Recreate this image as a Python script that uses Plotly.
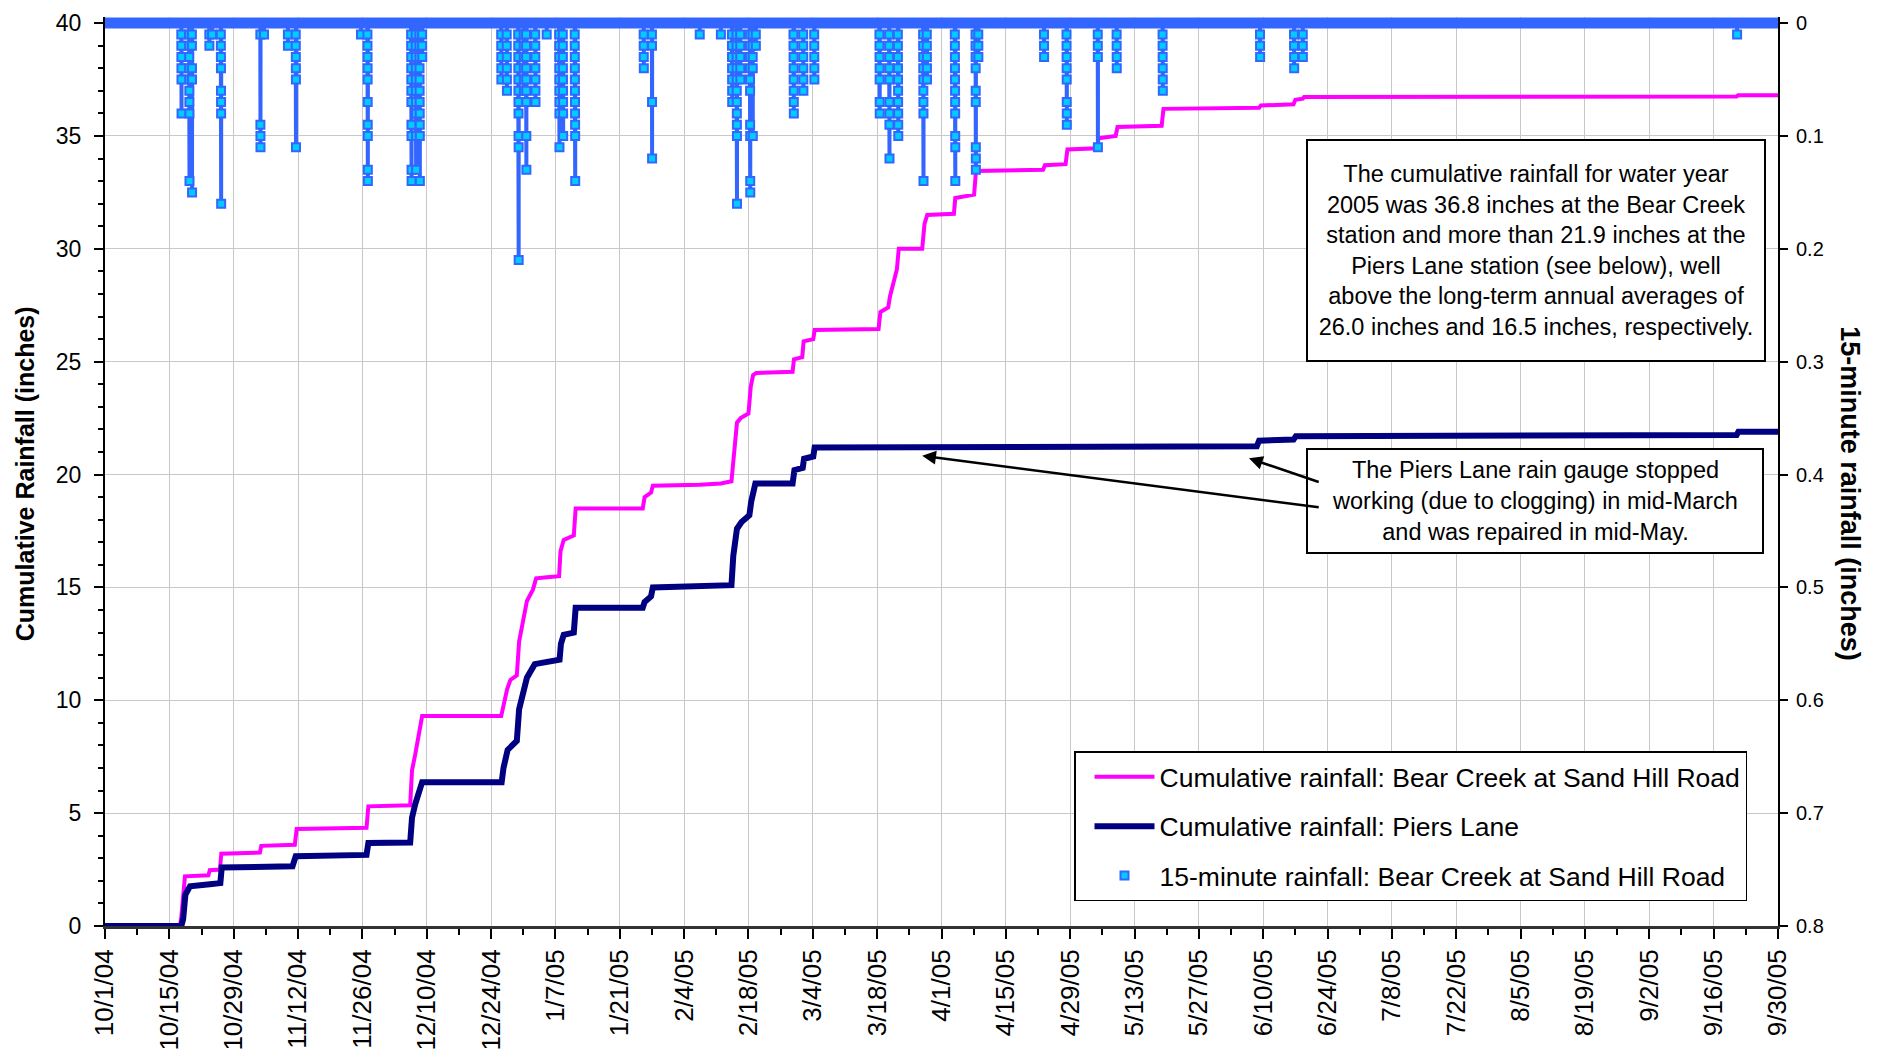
import pandas as pd
import plotly.graph_objects as go

START = pd.Timestamp("2004-10-01")
END = pd.Timestamp("2005-09-30")
FONT = "Liberation Sans, Arial, sans-serif"

# ---- Cumulative rainfall, Bear Creek at Sand Hill Road (days since 10/1/04, inches)
bc_day = [0, 16.3, 16.6, 17.0, 17.4, 22.5, 22.8, 25.0, 25.3, 33.7, 34.0, 41.3, 41.7,
          56.9, 57.3, 66.4, 66.8, 67.5, 68.4, 69.0, 86.2, 86.6, 87.5, 88.2, 89.6, 90.1,
          91.0, 91.8, 93.1, 93.8, 96.2, 98.8, 99.1, 99.8, 102.0, 102.4, 117.0, 117.4,
          118.8, 119.2, 129.4, 134.0, 136.3, 136.7, 137.5, 138.3, 140.0, 140.5, 141.0,
          141.7, 149.6, 149.9, 151.7, 152.0, 154.1, 154.4, 168.3, 168.7, 170.4, 170.8,
          171.6, 172.3, 172.7, 177.8, 178.3, 178.9, 184.7, 185.0, 189.1, 189.5, 204.1,
          204.5, 209.0, 209.4, 215.8, 216.2, 219.9, 220.3, 229.9, 230.3, 251.1, 251.5,
          258.6, 259.0, 260.6, 260.9, 355.0, 355.3, 364]
bc_cum = [0, 0, 0.4, 1.6, 2.2, 2.25, 2.47, 2.5, 3.2, 3.25, 3.55, 3.6, 4.3,
          4.35, 5.3, 5.35, 6.9, 7.6, 8.6, 9.3, 9.3, 9.7, 10.5, 10.9, 11.1, 12.6,
          13.5, 14.4, 14.9, 15.4, 15.45, 15.5, 16.6, 17.1, 17.3, 18.5, 18.5, 19.0,
          19.2, 19.5, 19.55, 19.6, 19.7, 20.6, 22.3, 22.5, 22.7, 23.9, 24.4,
          24.5, 24.55, 25.1, 25.2, 25.9, 26.0, 26.4, 26.45, 27.2, 27.4, 27.9,
          28.6, 29.1, 30.0, 30.0, 31.1, 31.5, 31.55, 32.25, 32.4, 33.45, 33.5,
          33.7, 33.75, 34.4, 34.45, 34.9, 35.0, 35.4, 35.45, 36.2, 36.25, 36.35,
          36.4, 36.6, 36.65, 36.73, 36.75, 36.8, 36.8]

# ---- Cumulative rainfall, Piers Lane (days since 10/1/04, inches)
pl_day = [0, 16.6, 17.0, 17.5, 18.5, 22.5, 22.8, 25.1, 25.4, 40.8, 41.5, 56.9, 57.3,
          66.4, 66.8, 67.5, 68.5, 69.0, 86.3, 86.7, 87.6, 88.3, 89.6, 90.1, 91.0, 91.8,
          93.5, 96.2, 98.9, 99.2, 99.8, 102.0, 102.4, 117.0, 117.4, 118.8, 119.2, 136.3,
          136.7, 137.5, 138.5, 140.2, 140.6, 141.5, 149.6, 150.0, 151.8, 152.1, 154.1,
          154.4, 250.6, 251.1, 258.6, 259.1, 355.0, 355.4, 364]
pl_cum = [0, 0, 0.3, 1.4, 1.76, 1.8, 1.85, 1.9, 2.59, 2.65, 3.09, 3.15, 3.68,
          3.7, 4.8, 5.4, 6.0, 6.37, 6.37, 7.0, 7.8, 7.97, 8.2, 9.6, 10.4, 11.0,
          11.6, 11.7, 11.8, 12.5, 12.9, 13.0, 14.1, 14.1, 14.35, 14.6, 15.0, 15.1,
          16.4, 17.6, 17.9, 18.2, 18.8, 19.6, 19.6, 20.2, 20.3, 20.7, 20.8,
          21.2, 21.25, 21.5, 21.55, 21.7, 21.75, 21.9, 21.9]

# ---- 15-minute rainfall bursts, Bear Creek (start day, successive 15-min depths in 0.01 in)
storm_day = [16.6, 18.3, 18.9, 22.7, 23.3, 25.2, 33.8, 34.6, 39.8, 41.5, 55.7, 57.1,
             66.6, 67.6, 68.4, 69.0, 86.2, 87.4, 89.9, 91.1, 91.6, 93.6, 96.1, 98.8,
             99.6, 102.2, 117.2, 119.0, 129.4, 134.0, 136.4, 137.4, 138.2, 140.3, 140.9,
             141.6, 149.8, 151.9, 154.3, 168.5, 170.6, 172.5, 178.0, 178.8, 184.9, 189.4,
             190.0, 204.3, 209.2, 216.0, 220.1, 230.1, 251.3, 258.7, 260.6, 355.1]
storm_vals = [
    [1, 2, 3, 4, 5, 8], [1, 2, 3, 4, 5, 6, 7, 8, 14], [1, 2, 4, 5, 15], [1, 2], [1],
    [1, 2, 3, 4, 6, 7, 8, 16], [1, 9, 10, 11], [1], [1, 2], [1, 2, 3, 4, 5, 11], [1],
    [1, 2, 3, 4, 5, 7, 9, 10, 13, 14],
    [1, 2, 3, 4, 5, 6, 7, 9, 10, 13, 14], [1, 2, 3, 4, 5, 6, 7, 8, 10, 13],
    [1, 2, 3, 4, 5, 6, 7, 8, 9, 10, 14], [1, 2, 3],
    [1, 2, 3, 4, 5], [1, 2, 3, 4, 5, 6], [1, 2, 3, 4, 5, 6, 7, 8, 10, 11, 21],
    [1, 2, 3, 4, 5, 6], [1, 2, 3, 4, 5, 6, 7, 10, 13], [1, 2, 3, 4, 5, 6, 7], [1],
    [1, 2, 3, 4, 5, 6, 7, 8, 11], [1, 2, 3, 4, 5, 6, 7, 8, 10],
    [1, 2, 3, 4, 5, 6, 7, 8, 9, 10, 14],
    [1, 2, 3, 4], [1, 2, 7, 12], [1], [1],
    [1, 2, 3, 4, 5, 6, 7], [1, 2, 3, 4, 5, 6, 7, 8, 9, 10, 16], [1, 2, 3, 4, 5],
    [1, 2, 3, 4, 5, 6, 9, 10, 14, 15], [1, 2, 3, 4, 10], [1, 2],
    [1, 2, 3, 4, 5, 6, 7, 8], [1, 2, 3, 4, 5, 6], [1, 2, 3, 4, 5],
    [1, 2, 3, 4, 5, 7, 8], [1, 2, 3, 4, 5, 7, 8, 9, 12], [1, 2, 3, 4, 5, 6, 7, 8, 9, 10],
    [1, 2, 3, 4, 5, 6, 7, 8, 14], [1, 2, 3, 4, 5], [1, 2, 3, 4, 5, 6, 7, 8, 10, 11, 14],
    [1, 2, 3, 4, 6, 7, 11, 12, 13], [1, 2, 3],
    [1, 2, 3], [1, 2, 3, 4, 5, 7, 8, 9], [1, 2, 3, 11], [1, 2, 3, 4],
    [1, 2, 3, 4, 5, 6],
    [1, 2, 3], [1, 2, 3, 4], [1, 2, 3],
    [1],
]

note1 = ("The cumulative rainfall for water year<br>2005 was 36.8 inches at the Bear Creek<br>"
         "station and more than 21.9 inches at the<br>Piers Lane station (see below), well<br>"
         "above the long-term annual averages of<br>26.0 inches and 16.5 inches, respectively.")
note2 = ("The Piers Lane rain gauge stopped<br>working (due to clogging) in mid-March<br>"
         "and was repaired in mid-May.")


def to_time(days):
    return [START + pd.to_timedelta(d, unit="D") for d in days]


# build the 15-minute series
q = pd.Timedelta(minutes=15)
rain_t, rain_v = [START], [0.0]
for d, vals in zip(storm_day, storm_vals):
    t0 = START + pd.to_timedelta(d, unit="D")
    rain_t.append(t0 - q)
    rain_v.append(0.0)
    for k, v in enumerate(vals):
        rain_t.append(t0 + k * q)
        rain_v.append(v / 100.0)
    rain_t.append(t0 + len(vals) * q)
    rain_v.append(0.0)
rain_t.append(END)
rain_v.append(0.0)
wet_t = [t for t, v in zip(rain_t, rain_v) if v > 0]
wet_v = [v for v in rain_v if v > 0]

fig = go.Figure()
fig.add_trace(go.Scatter(x=to_time(bc_day), y=bc_cum, mode="lines",
                         name="Cumulative rainfall: Bear Creek at Sand Hill Road",
                         line=dict(color="#FF00FF", width=4), legendgroup="a"))
fig.add_trace(go.Scatter(x=to_time(pl_day), y=pl_cum, mode="lines",
                         name="Cumulative rainfall: Piers Lane",
                         line=dict(color="#000080", width=6), legendgroup="b"))
fig.add_trace(go.Scatter(x=rain_t, y=rain_v, mode="lines", yaxis="y2", showlegend=False,
                         line=dict(color="#3366FF", width=4), hoverinfo="skip"))
fig.add_trace(go.Scatter(x=[rain_t[0], rain_t[-1]], y=[0, 0], mode="lines", yaxis="y2",
                         showlegend=False, line=dict(color="#3366FF", width=11),
                         hoverinfo="skip"))
fig.add_trace(go.Scatter(x=wet_t, y=wet_v, mode="markers", yaxis="y2",
                         name="15-minute rainfall: Bear Creek at Sand Hill Road",
                         marker=dict(symbol="square", size=8, color="#00CCFF",
                                     line=dict(color="#3366FF", width=2)),
                         legendgroup="c", cliponaxis=False))

DAY = 86400000
fig.update_layout(
    width=1878, height=1060,
    margin=dict(l=105, r=100, t=17.4, b=133.5, pad=0, autoexpand=False),
    plot_bgcolor="white", paper_bgcolor="white",
    font=dict(family=FONT, color="black"),
    xaxis=dict(type="date", range=[START, END], tick0="2004-10-01", dtick=14 * DAY,
               tickformat="%-m/%-d/%y", tickangle=-90, tickfont=dict(size=26),
               ticks="outside", ticklen=10, tickwidth=1.5, tickcolor="black",
               showline=True, linecolor="#333333", linewidth=3, automargin=False,
               showgrid=True, gridcolor="#c8c8c8", gridwidth=1, zeroline=False,
               ticklabelstandoff=0,
               minor=dict(dtick=7 * DAY, tick0="2004-10-01", ticks="outside", ticklen=6,
                          tickcolor="black", tickwidth=1.5, showgrid=False)),
    yaxis=dict(range=[0, 40.27], tick0=0, dtick=5, ticks="outside", ticklen=9,
               tickwidth=1.5, tickcolor="black", showline=True, linecolor="black",
               linewidth=2, showgrid=True, gridcolor="#c8c8c8", gridwidth=1,
               zeroline=False, tickfont=dict(size=23), ticklabelstandoff=8,
               automargin=False,
               minor=dict(dtick=1, ticks="outside", ticklen=5, tickcolor="black",
                          tickwidth=1.5, showgrid=False)),
    yaxis2=dict(overlaying="y", side="right", range=[0.8, -0.0054], tick0=0, dtick=0.1,
                ticks="outside", ticklen=8, tickwidth=1.5, tickcolor="black",
                showline=True, linecolor="black", linewidth=2, showgrid=False,
                zeroline=False, tickfont=dict(size=20), ticklabelstandoff=4,
                automargin=False),
    legend=dict(x=0.5792, y=0.192, xanchor="left", yanchor="top",
                font=dict(size=26.5), bordercolor="black", borderwidth=1.5,
                bgcolor="white", traceorder="grouped", tracegroupgap=12,
                itemwidth=60, indentation=14),
    showlegend=True,
)

fig.add_annotation(xref="paper", yref="paper", x=-0.0478, y=0.497, textangle=-90,
                   text="<b>Cumulative Rainfall (inches)</b>", showarrow=False,
                   font=dict(size=25), xanchor="center", yanchor="middle")
fig.add_annotation(xref="paper", yref="paper", x=1.043, y=0.475, textangle=90,
                   text="<b>15-minute rainfall (inches)</b>", showarrow=False,
                   font=dict(size=27), xanchor="center", yanchor="middle")
fig.add_annotation(xref="paper", yref="paper", x=0.8554, y=0.7432, text=note1,
                   showarrow=False, font=dict(size=23.5), align="center",
                   bordercolor="black", borderwidth=2, borderpad=2, bgcolor="white",
                   width=452, height=215, xanchor="center", yanchor="middle")
fig.add_annotation(xref="paper", yref="paper", x=0.8548, y=0.467, text=note2,
                   showarrow=False, font=dict(size=23.5), align="center",
                   bordercolor="black", borderwidth=2, borderpad=2, bgcolor="white",
                   width=450, height=98, xanchor="center", yanchor="middle")
for hx, hy, tx, ty in [("2005-06-06 21:36", 20.72, "2005-06-22 09:36", 19.65),
                       ("2005-03-27 19:12", 20.83, "2005-06-22 09:36", 18.54)]:
    fig.add_annotation(xref="x", yref="y", axref="x", ayref="y", x=hx, y=hy, ax=tx, ay=ty,
                       text="", showarrow=True, arrowhead=2, arrowsize=1.1,
                       arrowwidth=2.5, arrowcolor="black", standoff=0, startstandoff=0)

fig.write_html("out.html", config={"displayModeBar": False},
               post_script="document.body.style.margin='0px';document.body.style.overflow='hidden';")
